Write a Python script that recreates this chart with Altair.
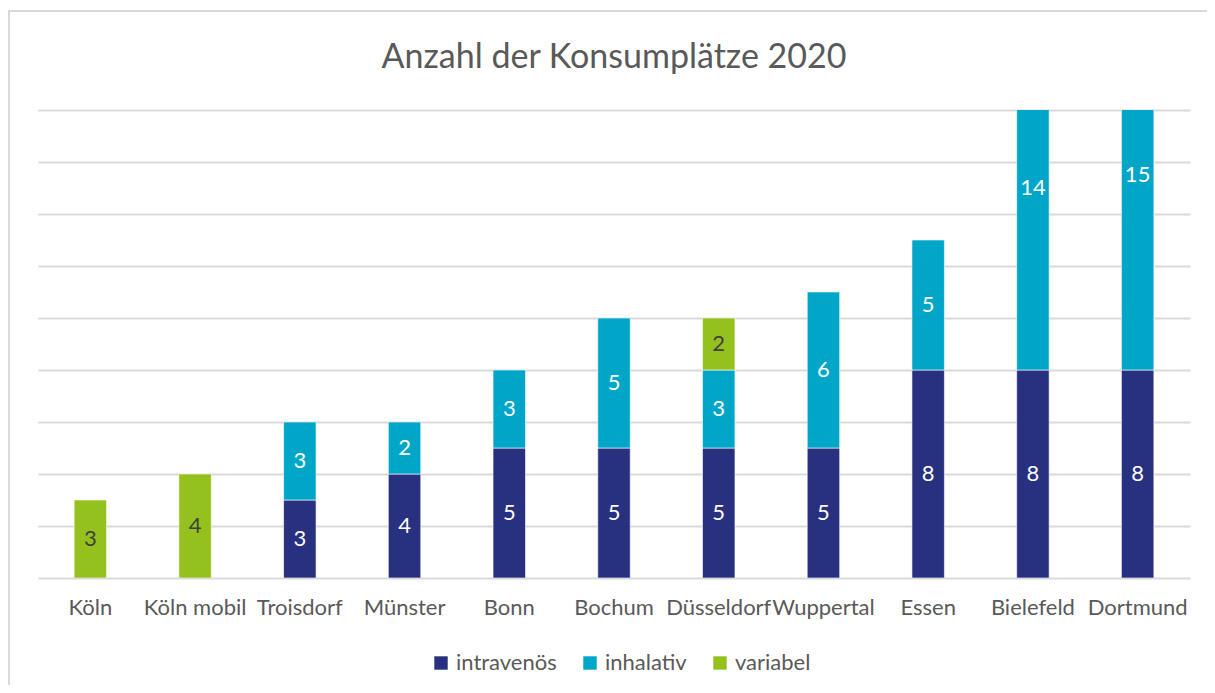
import altair as alt
import pandas as pd

cities = ["Köln", "Köln mobil", "Troisdorf", "Münster", "Bonn", "Bochum",
          "Düsseldorf", "Wuppertal", "Essen", "Bielefeld", "Dortmund"]
intravenoes = [0, 0, 3, 4, 5, 5, 5, 5, 8, 8, 8]
inhalativ = [0, 0, 3, 2, 3, 5, 3, 6, 5, 14, 15]
variabel = [3, 4, 0, 0, 0, 0, 2, 0, 0, 0, 0]
series = ["intravenös", "inhalativ", "variabel"]
colors = ["#283180", "#00A6C8", "#95C11F"]
title_text = "Anzahl der Konsumplätze 2020"

rows = []
for i, c in enumerate(cities):
    for k, (name, vals) in enumerate(zip(series, [intravenoes, inhalativ, variabel])):
        if vals[i] > 0:
            rows.append({"city": c, "type": name, "ord": k, "value": vals[i]})
df = pd.DataFrame(rows)

FONT = "Lato"
W, H = 1152, 468

base = alt.Chart(df).transform_stack(
    stack="value", groupby=["city"], as_=["y0", "y1"],
    sort=[alt.SortField("ord", order="ascending")]
).transform_calculate(mid="(datum.y0 + datum.y1) / 2")

xenc = alt.X("city:N", sort=cities, title=None,
             scale=alt.Scale(paddingInner=0.69, paddingOuter=0.345),
             axis=alt.Axis(labelAngle=0, ticks=False, domain=False, grid=False,
                           labelPadding=19, labelFontSize=22, labelFont=FONT,
                           labelColor="#595959"))

bars = base.mark_bar(clip=True, stroke="white", strokeWidth=0.6).encode(
    x=xenc,
    y=alt.Y("y0:Q", title=None, scale=alt.Scale(domain=[0, 18], nice=False),
            axis=alt.Axis(values=list(range(0, 19, 2)), labels=False, ticks=False,
                          domain=False, grid=True, gridColor="#d9d9d9", gridWidth=2)),
    y2="y1:Q",
    color=alt.Color("type:N", scale=alt.Scale(domain=series, range=colors),
                    legend=alt.Legend(title=None, orient="none", direction="horizontal",
                                      legendX=392, legendY=542, symbolType="square",
                                      symbolSize=180, symbolStrokeWidth=0,
                                      labelFontSize=22, labelFont=FONT,
                                      labelColor="#595959", columnPadding=22,
                                      symbolOffset=0)),
)

labels = base.mark_text(fontSize=22, font=FONT, baseline="middle").encode(
    x=alt.X("city:N", sort=cities),
    y=alt.Y("mid:Q"),
    text=alt.Text("value:Q"),
    color=alt.condition(alt.datum.type == "variabel", alt.value("#404040"), alt.value("white")),
)

one = pd.DataFrame({"t": [title_text]})

border = alt.Chart(one).mark_rect(
    fill=None, stroke="#d9d9d9", strokeWidth=2
).encode(x=alt.value(-29), x2=alt.value(1250), y=alt.value(-99), y2=alt.value(700))

title = alt.Chart(one).mark_text(
    fontSize=34, font=FONT, color="#595959", align="center", baseline="alphabetic"
).encode(x=alt.value(W / 2), y=alt.value(-42), text="t:N")

chart = alt.layer(border, bars, labels, title).properties(
    width=W, height=H,
    autosize=alt.AutoSizeParams(type="none"),
    padding={"left": 30, "top": 102, "right": 17, "bottom": 107},
    background="white",
).configure_view(stroke=None, strokeWidth=0)

chart.save("out.html", embed_options={"renderer": "svg", "actions": False})
